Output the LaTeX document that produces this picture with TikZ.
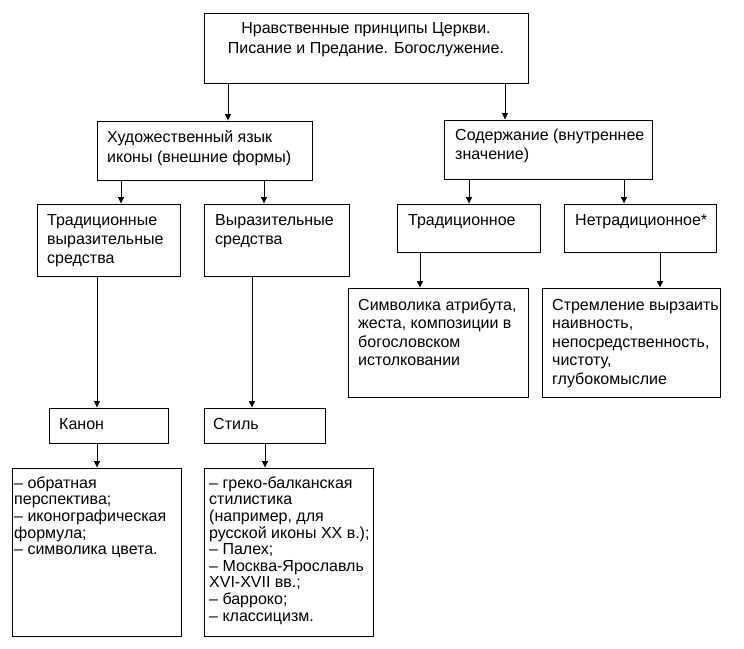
\documentclass[tikz,border=0pt]{standalone}
\usepackage{fontspec}
\setmainfont{Liberation Sans}
\usetikzlibrary{arrows.meta,fit}
\begin{document}
\begin{tikzpicture}[x=1pt,y=-1pt,
  box/.style={draw=black,line width=0.9pt,inner sep=0pt,rectangle},
  txt/.style={inner sep=0pt,anchor=north west,align=left,text=black},
  arr/.style={draw=black,line width=0.9pt,-{Triangle[width=6pt,length=6.5pt]}},
  lnA/.style={font=\fontsize{16}{20}\selectfont},
  lnB/.style={font=\fontsize{16}{19}\selectfont},
  lnC/.style={font=\fontsize{16}{18.5}\selectfont},
  lnD/.style={font=\fontsize{16}{16.6}\selectfont}]
\useasboundingbox[fill=white] (0,0) rectangle (744,648);
\newcommand{\fl}{\rule{0pt}{15pt}}
% boxes
\node[box,fit={(204,13) (528,83)}] (top) {};
\node[box,fit={(97,121) (312,180)}] (hud) {};
\node[box,fit={(444,120) (652,179)}] (sod) {};
\node[box,fit={(37,204) (180,276)}] (trad) {};
\node[box,fit={(204,204) (349,276)}] (vyr) {};
\node[box,fit={(397,204) (540,252)}] (tradn) {};
\node[box,fit={(564,204) (716,252)}] (netrad) {};
\node[box,fit={(348,288) (528,397)}] (simv) {};
\node[box,fit={(542,288) (720,397)}] (strem) {};
\node[box,fit={(49,408) (168,443)}] (kanon) {};
\node[box,fit={(204,408) (325,443)}] (stil) {};
\node[box,fit={(12,468) (181,636)}] (kanlist) {};
\node[box,fit={(204,468) (373,636)}] (stillist) {};
% texts
\node[txt,lnA,anchor=north,align=center] (ttop) at (366,18) {\fl Нравственные принципы Церкви.\\Писание и Предание. Богослужение.};
\node[txt,lnA] (thud) at (107,127) {\fl Художественный язык\\иконы (внешние формы)};
\node[txt,lnB] (tsod) at (455,125.5) {\fl Содержание (внутреннее\\значение)};
\node[txt,lnB] (ttrad) at (47,210.5) {\fl Традиционные\\выразительные\\средства};
\node[txt,lnB] (tvyr) at (215,210.5) {\fl Выразительные\\средства};
\node[txt,lnB] (ttradn) at (408,210.5) {\fl Традиционное};
\node[txt,lnB] (tnetrad) at (575,210.5) {\fl Нетрадиционное*};
\node[txt,lnC] (tsimv) at (358,295) {\fl Символика атрибута,\\жеста, композиции в\\богословском\\истолковании};
\node[txt,lnC] (tstrem) at (552,295) {\fl Стремление вырзаить\\наивность,\\непосредственность,\\чистоту,\\глубокомыслие};
\node[txt,lnB] (tkanon) at (59,414) {\fl Канон};
\node[txt,lnB] (tstil) at (213,414) {\fl Стиль};
\node[txt,lnD] (tkanlist) at (14,473) {\fl – обратная\\перспектива;\\– иконографическая\\формула;\\– символика цвета.};
\node[txt,lnD] (tstillist) at (209,473) {\fl – греко-балканская\\стилистика\\(например, для\\русской иконы XX в.);\\– Палех;\\– Москва-Ярославль\\XVI-XVII вв.;\\– барроко;\\– классицизм.};
% connectors
\draw[arr] (top.south -| 228,0) -- (hud.north -| 228,0);
\draw[arr] (top.south -| 505,0) -- (sod.north -| 505,0);
\draw[arr] (hud.south -| 121,0) -- (trad.north -| 121,0);
\draw[arr] (hud.south -| 264,0) -- (vyr.north -| 264,0);
\draw[arr] (sod.south -| 469,0) -- (tradn.north -| 469,0);
\draw[arr] (sod.south -| 624,0) -- (netrad.north -| 624,0);
\draw[arr] (trad.south -| 97,0) -- (kanon.north -| 97,0);
\draw[arr] (vyr.south -| 252,0) -- (stil.north -| 252,0);
\draw[arr] (tradn.south -| 420,0) -- (simv.north -| 420,0);
\draw[arr] (netrad.south -| 660,0) -- (strem.north -| 660,0);
\draw[arr] (kanon.south -| 97,0) -- (kanlist.north -| 97,0);
\draw[arr] (stil.south -| 265,0) -- (stillist.north -| 265,0);
\end{tikzpicture}
\end{document}
